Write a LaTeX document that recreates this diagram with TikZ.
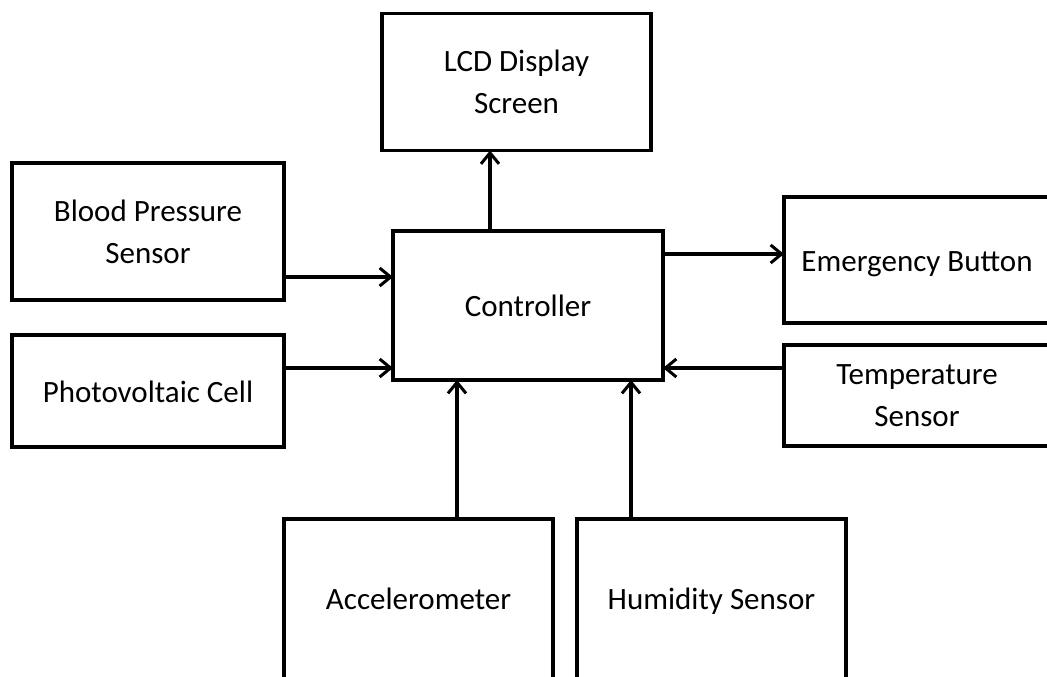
\documentclass[tikz,border=0pt]{standalone}
\usepackage{fontspec}
\setmainfont{Carlito}
\usetikzlibrary{arrows.meta}
\newcommand{\mystrut}{\rule[-8pt]{0pt}{38pt}}
\begin{document}
\begin{tikzpicture}[x=1pt,y=-1pt,
  blk/.style={draw=black, line width=3.4pt, inner sep=0pt, outer sep=0pt, align=center,
    font=\fontsize{31}{42}\selectfont},
  one/.style={execute at begin node=\mystrut},
  arr/.style={line width=3.2pt, -{Straight Barb[length=11pt,width=18pt,line width=3pt]}}]
\useasboundingbox (0,0) rectangle (1047,677);
\clip (0,0) rectangle (1047,677);
\node[blk, minimum width=269pt, minimum height=137pt] (lcd) at (516.5,82) {LCD Display\\Screen};
\node[blk, minimum width=272pt, minimum height=137pt] (bp) at (148,231.5) {Blood Pressure\\Sensor};
\node[blk, one, minimum width=272pt, minimum height=112pt] (pv) at (148,391) {Photovoltaic Cell};
\node[blk, one, minimum width=270pt, minimum height=149pt] (ctrl) at (528,305.5) {Controller};
\node[blk, one, minimum width=266pt, minimum height=126pt] (emg) at (917,260) {Emergency Button};
\node[blk, minimum width=266pt, minimum height=101pt] (tmp) at (917,395.5) {Temperature\\Sensor};
\node[blk, one, minimum width=269pt, minimum height=159.5pt] (acc) at (418.5,598.75) {Accelerometer};
\node[blk, one, minimum width=269pt, minimum height=159.5pt] (hum) at (711.5,598.75) {Humidity Sensor};
\coordinate (r1) at (0,277);
\coordinate (r2) at (0,368);
\coordinate (r3) at (0,254);
\coordinate (c1) at (490,0);
\coordinate (c2) at (457,0);
\coordinate (c3) at (631,0);
\draw[arr] (ctrl.north -| c1) -- (lcd.south -| c1);
\draw[arr] (bp.east |- r1) -- (ctrl.west |- r1);
\draw[arr] (pv.east |- r2) -- (ctrl.west |- r2);
\draw[arr] (ctrl.east |- r3) -- (emg.west |- r3);
\draw[arr] (tmp.west |- r2) -- (ctrl.east |- r2);
\draw[arr] (acc.north -| c2) -- (ctrl.south -| c2);
\draw[arr] (hum.north -| c3) -- (ctrl.south -| c3);
\end{tikzpicture}
\end{document}
